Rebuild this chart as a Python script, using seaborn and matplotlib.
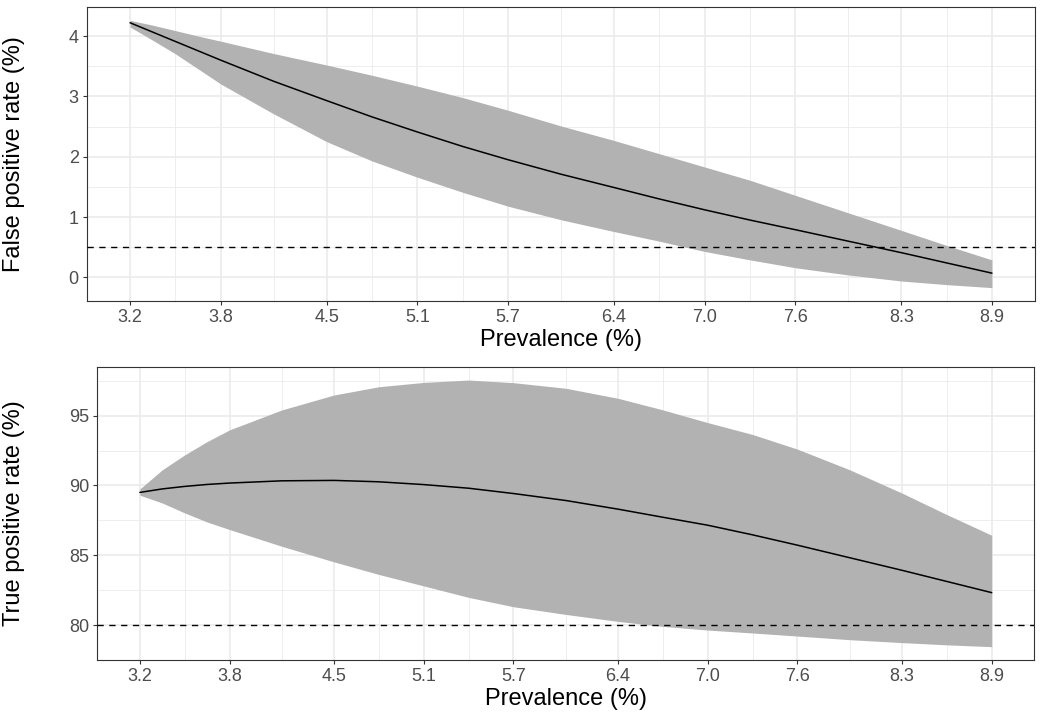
import numpy as np
import pandas as pd
import matplotlib
matplotlib.use("Agg")
import matplotlib.pyplot as plt
import matplotlib.transforms as mtrans
from matplotlib.ticker import FixedLocator, FixedFormatter
import seaborn as sns

# ---------------- data ----------------
prevalence = [3.2, 3.35, 3.5, 3.65, 3.8, 4.15, 4.5, 4.8, 5.1, 5.4, 5.7, 6.05,
              6.4, 6.7, 7.0, 7.3, 7.6, 7.95, 8.3, 8.6, 8.9]

fpr_mean = [4.22, 4.065, 3.91, 3.755, 3.60, 3.25, 2.93, 2.66, 2.41, 2.17, 1.95, 1.71,
            1.49, 1.30, 1.12, 0.95, 0.79, 0.60, 0.41, 0.24, 0.07]
fpr_upper = [4.26, 4.18, 4.09, 4.00, 3.915, 3.71, 3.52, 3.35, 3.17, 2.98, 2.77, 2.51,
             2.27, 2.05, 1.83, 1.61, 1.36, 1.07, 0.78, 0.53, 0.29]
fpr_lower = [4.15, 3.93, 3.705, 3.455, 3.205, 2.71, 2.25, 1.93, 1.66, 1.41, 1.18, 0.955,
             0.76, 0.60, 0.43, 0.29, 0.16, 0.04, -0.06, -0.12, -0.17]

tpr_mean = [89.5, 89.75, 89.93, 90.07, 90.17, 90.33, 90.36, 90.26, 90.06, 89.8, 89.42, 88.92,
            88.3, 87.72, 87.15, 86.46, 85.72, 84.82, 83.92, 83.12, 82.32]
tpr_upper = [89.75, 91.12, 92.19, 93.14, 93.98, 95.41, 96.48, 97.07, 97.38, 97.55, 97.36, 96.96,
             96.24, 95.41, 94.5, 93.65, 92.6, 91.12, 89.45, 87.91, 86.43]
tpr_lower = [89.3, 88.74, 88.03, 87.38, 86.84, 85.64, 84.52, 83.62, 82.8, 81.98, 81.31, 80.76,
             80.26, 79.9, 79.64, 79.43, 79.21, 78.95, 78.74, 78.58, 78.45]

fpr_threshold = 0.5
tpr_threshold = 80

x_ticks = [3.2, 3.8, 4.5, 5.1, 5.7, 6.4, 7.0, 7.6, 8.3, 8.9]
x_tick_labels = ["3.2", "3.8", "4.5", "5.1", "5.7", "6.4", "7.0", "7.6", "8.3", "8.9"]
fpr_yticks = [0, 1, 2, 3, 4]
tpr_yticks = [80, 85, 90, 95]

x_label = "Prevalence (%)"
fpr_label = "False positive rate (%)"
tpr_label = "True positive rate (%)"

# ---------------- style ----------------
sns.set_theme(style="white")
plt.rcParams["font.family"] = ["Liberation Sans", "DejaVu Sans"]

W, H = 1045, 718
fig = plt.figure(figsize=(W / 100, H / 100), dpi=100)
fig.patch.set_facecolor("white")

BAND = "#B2B2B2"
GRID = "#EBEBEB"


def px_axes(l, t, r, b):
    return fig.add_axes([l / W, 1 - b / H, (r - l) / W, (b - t) / H])


def midpoints(v, lo, hi):
    v = list(v)
    ext = [v[0] - (v[1] - v[0])] + v + [v[-1] + (v[-1] - v[-2])]
    m = [(a + b) / 2 for a, b in zip(ext[:-1], ext[1:])]
    return [x for x in m if lo <= x <= hi]


def style_panel(ax, yticks, ylabel, label_top_px, ax_bottom_px, ax_h_px):
    ax.margins(x=0.05, y=0.05)
    ax.autoscale_view()
    x0, x1 = ax.get_xlim()
    y0, y1 = ax.get_ylim()
    ax.set_xlim(x0, x1)
    ax.set_ylim(y0, y1)

    ax.xaxis.set_major_locator(FixedLocator(x_ticks))
    ax.xaxis.set_major_formatter(FixedFormatter(x_tick_labels))
    ax.xaxis.set_minor_locator(FixedLocator(midpoints(x_ticks, x0, x1)))
    ax.yaxis.set_major_locator(FixedLocator(yticks))
    ax.yaxis.set_minor_locator(FixedLocator(midpoints(yticks, y0, y1)))

    ax.set_axisbelow(True)
    ax.grid(True, which="major", color=GRID, linewidth=1.2)
    ax.grid(True, which="minor", color=GRID, linewidth=0.6)
    ax.set_facecolor("white")
    for s in ax.spines.values():
        s.set_visible(True)
        s.set_color("#333333")
        s.set_linewidth(0.8)

    ax.tick_params(which="major", direction="out", length=3.0, width=0.8,
                   color="#333333", labelcolor="#4D4D4D", labelsize=13, pad=3.0,
                   bottom=True, left=True)
    ax.tick_params(which="minor", length=0)

    ax.set_xlabel(x_label, fontsize=17, color="black")
    ax.set_ylabel(ylabel, fontsize=17, color="black")
    ax.xaxis.label.set_verticalalignment("top")
    ax.xaxis.set_label_coords(0.5, -(label_top_px - ax_bottom_px) / ax_h_px)
    ax.yaxis.set_label_coords(
        25 / W, 0.5,
        transform=mtrans.blended_transform_factory(fig.transFigure, ax.transAxes))


# ---------------- top panel ----------------
ax1 = px_axes(87, 7, 1035, 301)
ax1.fill_between(prevalence, fpr_lower, fpr_upper, color=BAND, linewidth=0, zorder=2)
sns.lineplot(x=prevalence, y=fpr_mean, ax=ax1, color="black", linewidth=1.1, zorder=3)
ax1.axhline(fpr_threshold, color="black", linewidth=1.0, linestyle=(0, (4.5, 4)), zorder=4)
style_panel(ax1, fpr_yticks, fpr_label, 329, 301, 294)

# ---------------- bottom panel ----------------
ax2 = px_axes(97.3, 366.7, 1034.3, 660)
ax2.fill_between(prevalence, tpr_lower, tpr_upper, color=BAND, linewidth=0, zorder=2)
sns.lineplot(x=prevalence, y=tpr_mean, ax=ax2, color="black", linewidth=1.1, zorder=3)
ax2.axhline(tpr_threshold, color="black", linewidth=1.0, linestyle=(0, (4.5, 4)), zorder=4)
style_panel(ax2, tpr_yticks, tpr_label, 688, 660, 293.3)

fig.savefig("out.png", dpi=100, facecolor="white")
